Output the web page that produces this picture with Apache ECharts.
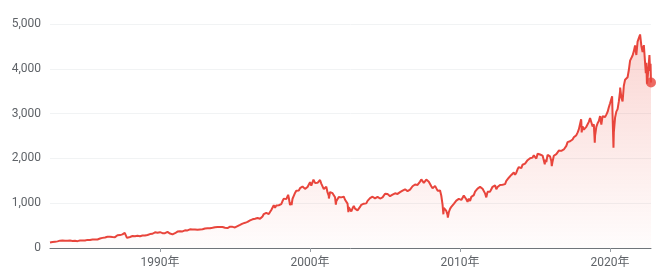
<!DOCTYPE html>
<html><head><meta charset="utf-8">
<script src="https://cdn.jsdelivr.net/npm/echarts@6/dist/echarts.min.js"></script>
<style>html,body{margin:0;padding:0;background:#fff}#c{width:668px;height:279px}</style>
</head><body><div id="c"></div>
<script>
// Monthly closes, starting Sep 1982 (month-end)
const startYear = 1982, startMonth = 9;
const monthlyClose = [
  120,134,139,141,
  145,148,153,164,162,168,163,164,166,164,166,165,
  163,157,159,160,151,153,150,167,166,166,163,167,
  180,181,181,180,189,191,190,188,182,190,202,211,
  212,226,238,235,247,251,236,253,231,244,249,242,
  274,284,291,288,290,304,318,330,321,252,230,247,
  257,267,259,261,262,274,272,262,272,279,274,278,
  297,289,295,310,321,318,346,351,349,340,346,353,
  329,332,340,331,361,358,356,323,306,304,322,330,
  344,367,375,376,390,371,388,395,388,392,375,417,
  409,413,404,415,415,409,424,414,418,419,431,436,
  439,443,452,440,450,451,448,464,459,468,462,466,
  482,467,446,451,457,444,458,475,463,472,454,459,
  470,487,501,515,533,545,562,562,584,582,605,616,
  636,640,646,654,669,671,640,652,687,705,757,741,
  786,791,757,801,848,885,954,899,947,915,955,970,
  980,1049,1102,1112,1091,1134,1121,957,1017,1099,1164,1229,
  1280,1238,1286,1335,1302,1373,1329,1320,1283,1363,1389,1469,
  1394,1366,1499,1452,1421,1455,1431,1518,1437,1429,1315,1320,
  1366,1240,1160,1249,1256,1224,1211,1134,1041,1060,1139,1148,
  1130,1107,1147,1077,1067,990,912,916,815,886,936,880,
  856,841,848,917,964,975,990,1008,996,1051,1058,1112,
  1131,1145,1126,1107,1121,1141,1102,1104,1115,1130,1174,1212,
  1181,1204,1181,1157,1191,1191,1234,1220,1229,1207,1249,1248,
  1280,1281,1295,1311,1270,1270,1277,1304,1336,1378,1401,1418,
  1438,1407,1421,1482,1531,1503,1455,1474,1527,1549,1481,1468,
  1379,1331,1323,1386,1400,1280,1267,1283,1166,969,896,903,
  826,735,798,873,919,919,987,1021,1057,1036,1096,1115,
  1074,1104,1169,1187,1089,1031,1102,1049,1141,1183,1181,1258,
  1286,1327,1326,1364,1345,1321,1292,1219,1131,1253,1247,1258,
  1312,1366,1408,1398,1310,1362,1379,1407,1441,1412,1416,1426,
  1498,1515,1569,1598,1631,1606,1686,1633,1682,1757,1806,1848,
  1783,1859,1872,1884,1924,1960,1931,2003,1972,2018,2068,2059,
  1995,2105,2068,2086,2107,2063,2104,1972,1920,2079,2080,2044,
  1940,1932,2060,2065,2097,2099,2174,2171,2168,2126,2199,2239,
  2279,2364,2363,2384,2412,2423,2470,2472,2519,2575,2648,2674,
  2824,2714,2641,2648,2705,2718,2816,2902,2914,2712,2760,2507,
  2704,2784,2834,2946,2752,2942,2980,2926,2977,3038,3141,3231,
  3226,2954,2585,2912,3044,3100,3271,3500,3363,3270,3622,3756,
  3714,3811,3973,4181,4204,4298,4395,4523,4308,4605,4567,4766,
  4516,4374,4530,4132,4132,3785,4130,3955
];
// Intra-month highs / lows
const extraDates = ['1982-09-01','1987-08-25','1987-10-19','1990-07-16','1990-10-11','1998-07-17','1998-10-08',
  '2000-03-24','2000-09-01','2001-04-04','2001-09-21','2002-07-23','2002-10-09','2003-03-11','2007-10-09',
  '2008-11-20','2009-03-09','2010-07-02','2011-10-03','2015-08-25','2016-02-11','2018-01-26','2018-02-08',
  '2018-09-20','2018-12-24','2020-02-19','2020-03-23','2020-09-02','2022-01-03','2022-05-20','2022-06-16',
  '2022-08-16','2022-09-12','2022-09-23'];
const extraValues = [122,337,225,369,295,1187,960,
  1527,1521,1103,966,798,777,800,1565,
  752,677,1022,1099,1867,1829,2873,2581,
  2931,2351,3386,2237,3580,4797,3901,3667,
  4305,4110,3693];
const yTicks = [0,1000,2000,3000,4000,5000];
const xTickYears = [1990,2000,2010,2020];

function dayToYear(s){
  const p = s.split('-').map(Number);
  return p[0] + (Date.UTC(p[0],p[1]-1,p[2]) - Date.UTC(p[0],0,1)) / (365.25*864e5);
}
const pts = [];
monthlyClose.forEach((v,i)=>{
  const m = startMonth - 1 + i;
  const y = startYear + Math.floor(m/12), mon = m % 12;
  pts.push([y + (mon+1)/12 - 0.002, v]);
});
extraDates.forEach((d,i)=>pts.push([dayToYear(d), extraValues[i]]));
pts.sort((a,b)=>a[0]-b[0]);
const last = pts[pts.length-1];

const red = '#e8453c';
const chart = echarts.init(document.getElementById('c'));
chart.setOption({
  animation:false,
  grid:{left:50,right:17,top:24,bottom:31},
  xAxis:{type:'value',min:pts[0][0],max:last[0],
    axisLine:{lineStyle:{color:'#70757a',width:1}},
    axisTick:{show:true,customValues:xTickYears,length:4,lineStyle:{color:'#9aa0a6'}},
    axisLabel:{customValues:xTickYears,formatter:v=>Math.round(v)+'年',color:'#5f6368',fontSize:12,margin:9,
      fontFamily:'Roboto, "Noto Sans CJK SC", sans-serif'},
    splitLine:{show:false}},
  yAxis:{type:'value',min:yTicks[0],max:yTicks[yTicks.length-1],interval:1000,
    axisLine:{show:false},axisTick:{show:false},
    axisLabel:{color:'#5f6368',fontSize:12,margin:9,fontFamily:'Roboto, sans-serif',
      formatter:v=>v.toLocaleString('en-US')},
    splitLine:{lineStyle:{color:'#f1f3f4',width:1}}},
  series:[
    {type:'line',data:pts,showSymbol:false,symbol:'none',
      lineStyle:{color:red,width:2},
      areaStyle:{color:new echarts.graphic.LinearGradient(0,0,0,1,[
        {offset:0,color:'rgba(234,67,53,0.32)'},{offset:1,color:'rgba(234,67,53,0.02)'}])}},
    {type:'scatter',data:[last],symbolSize:10,itemStyle:{color:red},z:5}
  ]
});
</script></body></html>
